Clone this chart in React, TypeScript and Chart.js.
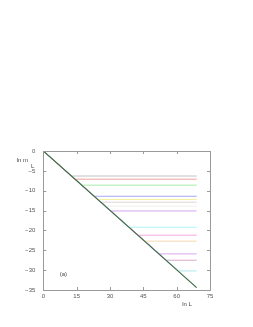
import React, { useEffect, useRef } from "react";
import { Chart, registerables } from "chart.js";

Chart.register(...registerables);

// main diagonal (ln m_L vs ln L)
const mainX = [0, 69];
const mainY = [0, -34.4];

// saturating curves: knee x (where they leave the diagonal) and plateau level
const kneeX = [12.7, 14.5, 17.3, 23.0, 24.6, 26.0, 28.0, 30.4, 38.7, 42.8, 45.8, 52.2, 55.4, 60.9];
const plateauY = [-6.3, -7.1, -8.6, -11.4, -12.2, -12.9, -13.9, -15.1, -19.2, -21.2, -22.7, -25.9, -27.5, -30.2];
const plateauEnd = 69;
const colors = [
  "#c4c4c4", "#f2a0a0", "#a8eaa8", "#a8a8f4", "#f4f0a0", "#e4d4d4", "#f2eeee",
  "#d8a8ec", "#b0f4f4", "#f4a8e4", "#f8d8b0", "#d8a8f0", "#d8a8c8", "#b0e8e8",
];

const xTicks = [0, 15, 30, 45, 60, 75];
const yTicks = [0, -5, -10, -15, -20, -25, -30, -35];

const FONT = "'Liberation Sans', 'DejaVu Sans', sans-serif";

const framePlugin = {
  id: "frame",
  afterDraw(chart: any) {
    const { ctx, chartArea: a, scales } = chart;
    const xs = scales.x;
    const ys = scales.y;
    ctx.save();
    ctx.strokeStyle = "#9a9a9a";
    ctx.lineWidth = 1;
    ctx.strokeRect(Math.round(a.left) + 0.5, Math.round(a.top) + 0.5, Math.round(a.right - a.left), Math.round(a.bottom - a.top));
    ctx.beginPath();
    const t = 3;
    for (const v of xTicks) {
      const px = Math.round(xs.getPixelForValue(v)) + 0.5;
      ctx.moveTo(px, a.bottom); ctx.lineTo(px, a.bottom - t);
      ctx.moveTo(px, a.top); ctx.lineTo(px, a.top + t);
    }
    for (const v of yTicks) {
      const py = Math.round(ys.getPixelForValue(v)) + 0.5;
      ctx.moveTo(a.left, py); ctx.lineTo(a.left + t, py);
      ctx.moveTo(a.right, py); ctx.lineTo(a.right - t, py);
    }
    ctx.stroke();
    ctx.fillStyle = "#444";
    ctx.font = `6px ${FONT}`;
    ctx.textBaseline = "middle";
    ctx.textAlign = "right";
    ctx.fillText("ln m", 28, 160);
    ctx.textAlign = "left";
    ctx.fillText("L", 31, 166);
    ctx.textAlign = "center";
    ctx.fillText("ln L", 187, 304);
    ctx.fillText("(a)", xs.getPixelForValue(9), ys.getPixelForValue(-31));
    ctx.restore();
  },
};

export default function App() {
  const ref = useRef<HTMLCanvasElement>(null);
  useEffect(() => {
    if (!ref.current) return;
    const datasets: any[] = [
      {
        data: mainX.map((x, i) => ({ x, y: mainY[i] })),
        borderColor: "#3f6a48",
        borderWidth: 1.2,
        pointRadius: 0,
        order: 0,
      },
    ];
    plateauY.forEach((py, i) => {
      datasets.push({
        data: [
          { x: 0, y: 0 },
          { x: kneeX[i], y: py },
          { x: plateauEnd, y: py },
        ],
        borderColor: colors[i],
        borderWidth: 1,
        pointRadius: 0,
        order: 1,
      });
    });
    const chart = new Chart(ref.current, {
      type: "line",
      data: { datasets },
      options: {
        animation: false,
        responsive: false,
        maintainAspectRatio: false,
        parsing: false as any,
        layout: { padding: { top: 151, right: 43, left: 0, bottom: 0 } },
        plugins: { legend: { display: false }, tooltip: { enabled: false } },
        scales: {
          x: {
            type: "linear",
            min: 0,
            max: 75,
            afterFit: (s: any) => { s.height = 37; },
            afterBuildTicks: (s: any) => { s.ticks = xTicks.map((v) => ({ value: v })); },
            grid: { display: false, drawTicks: false },
            border: { display: false },
            ticks: { color: "#555", font: { size: 6, family: FONT }, padding: 3, maxRotation: 0 },
          },
          y: {
            type: "linear",
            min: -35,
            max: 0,
            afterFit: (s: any) => { s.width = 43.3; },
            afterBuildTicks: (s: any) => { s.ticks = yTicks.map((v) => ({ value: v })); },
            grid: { display: false, drawTicks: false },
            border: { display: false },
            ticks: {
              color: "#555",
              font: { size: 6, family: FONT },
              padding: 8,
              callback: (v: any) => (Number(v) < 0 ? "\u2212" + Math.abs(Number(v)) : String(v)),
            },
          },
        },
      },
      plugins: [framePlugin],
    });
    return () => chart.destroy();
  }, []);
  return (
    <div style={{ position: "absolute", left: 0, top: 0, width: 253, height: 327, background: "#fff" }}>
      <canvas ref={ref} width={253} height={327} style={{ width: 253, height: 327, display: "block" }} />
    </div>
  );
}
